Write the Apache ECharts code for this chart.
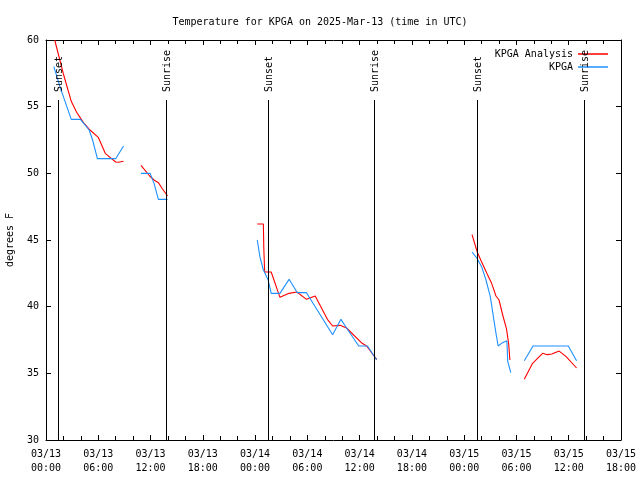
<!DOCTYPE html>
<html>
<head>
<meta charset="utf-8">
<script src="https://cdn.jsdelivr.net/npm/echarts@6/dist/echarts.min.js"></script>
<style>html,body{margin:0;padding:0;background:#fff}#c{width:640px;height:480px}</style>
</head>
<body>
<div id="c"></div>
<script>
// Times are hours since 2025-03-13 00:00 UTC
const xTickHours = [0, 6, 12, 18, 24, 30, 36, 42, 48, 54, 60, 66];
const yTicks = [30, 35, 40, 45, 50, 55, 60];

// KPGA Analysis (red) segments [hour, degF]
const analysisSeg1 = [[1.0,60.0],[2.0,57.45],[2.9,55.4],[3.5,54.6],[4.3,53.8],[5.05,53.25],[6.0,52.7],[6.8,51.5],[7.35,51.2],[8.0,50.85],[8.3,50.83],[8.9,50.9]];
const analysisSeg2 = [[10.9,50.6],[11.9,49.8],[12.4,49.5],[12.9,49.3],[13.3,48.9],[13.95,48.3]];
const analysisSeg3 = [[24.25,46.2],[24.95,46.2],[25.0,44.4],[25.1,42.6],[25.85,42.6],[26.85,40.7],[27.9,41.0],[28.8,41.1],[29.9,40.55],[30.9,40.8],[32.3,39.05],[32.9,38.55],[33.75,38.6],[34.5,38.4],[36.2,37.3],[36.8,37.05],[37.95,36.05]];
const analysisSeg4 = [[48.9,45.4],[49.5,44.1],[49.9,43.5],[50.6,42.5],[51.15,41.75],[51.65,40.8],[52.0,40.5],[52.45,39.3],[52.85,38.35],[53.0,38.2],[53.1,37.25],[53.25,36.0]];
const analysisSeg5 = [[54.9,34.55],[55.85,35.75],[57.0,36.5],[57.55,36.4],[58.05,36.45],[58.9,36.67],[59.7,36.25],[60.9,35.4]];

// KPGA observations (blue) segments [hour, degF]
const obsSeg1 = [[0.9,58.0],[1.6,56.5],[2.9,54.05],[3.95,54.05],[4.95,53.25],[5.35,52.5],[5.9,51.1],[8.0,51.1],[8.9,52.05]];
const obsSeg2 = [[10.9,50.0],[11.95,50.0],[12.4,49.25],[12.9,48.05],[13.95,48.05]];
const obsSeg3 = [[24.25,45.0],[24.55,43.75],[24.95,42.75],[25.5,42.0],[25.85,41.0],[26.85,41.0],[27.9,42.05],[28.85,41.05],[29.9,41.05],[32.9,37.9],[33.85,39.05],[34.5,38.4],[35.9,37.05],[36.9,37.05],[37.95,36.0]];
const obsSeg4 = [[48.9,44.1],[49.5,43.6],[50.0,43.0],[50.5,42.0],[51.0,40.75],[51.35,39.25],[51.65,38.0],[51.9,37.05],[52.1,37.1],[52.4,37.3],[52.9,37.45],[53.0,35.9],[53.35,35.05]];
const obsSeg5 = [[54.9,35.95],[55.9,37.05],[59.95,37.05],[60.9,35.95]];

// Sun events
const sunHours = [1.41, 13.73, 25.5, 37.7, 49.5, 61.7];
const sunLabels = ['Sunset', 'Sunrise', 'Sunset', 'Sunrise', 'Sunset', 'Sunrise'];
const sunLineTop = 55.5;

const FONT = 'DejaVu Sans Mono';
const FS = 10;
const RED = '#ff0000';
const BLUE = '#1e90ff';

function fmtX(h) {
  const day = 13 + Math.floor(h / 24);
  const hh = h % 24;
  return '03/' + day + '\n' + String(hh).padStart(2, '0') + ':00';
}

function lineSeries(name, data, color) {
  return {
    name: name, type: 'line', data: data, symbol: 'none', showSymbol: false,
    lineStyle: {color: color, width: 1.1}, itemStyle: {color: color},
    animation: false, silent: true, z: 3
  };
}

const baseX = {
  type: 'value', min: 0, max: 66, interval: 6,
  axisLine: {onZero: false, lineStyle: {color: '#000', width: 1}},
  axisTick: {inside: true, length: 5, lineStyle: {color: '#000'}},
  minorTick: {show: true, splitNumber: 3, length: 4, lineStyle: {color: '#000'}},
  splitLine: {show: false}
};
const baseY = {
  type: 'value', min: 30, max: 60, interval: 5,
  axisLine: {onZero: false, lineStyle: {color: '#000', width: 1}},
  axisTick: {inside: true, length: 5, lineStyle: {color: '#000'}},
  splitLine: {show: false}
};

const chart = echarts.init(document.getElementById('c'));
chart.setOption({
  animation: false,
  backgroundColor: '#fff',
  title: {
    text: 'Temperature for KPGA on 2025-Mar-13 (time in UTC)',
    left: 'center', top: 12,
    textStyle: {fontFamily: FONT, fontSize: FS, fontWeight: 'normal', color: '#000'}
  },
  legend: {
    orient: 'vertical', right: 27, top: 43, align: 'right',
    itemWidth: 30, itemHeight: 1.5, itemGap: 1, icon: 'rect', itemTextGap: 7,
    textStyle: {fontFamily: FONT, fontSize: FS, color: '#000', lineHeight: 12},
    data: [{name: 'KPGA Analysis', itemStyle: {color: RED}}, {name: 'KPGA', itemStyle: {color: BLUE}}]
  },
  grid: {left: 46, right: 19, top: 40, bottom: 40, containLabel: false, outerBoundsMode: 'none'},
  xAxis: [
    Object.assign({}, baseX, {
      position: 'bottom',
      axisLabel: {formatter: fmtX, color: '#000', fontFamily: FONT, fontSize: FS, lineHeight: 14, margin: 7}
    }),
    Object.assign({}, baseX, {position: 'top', axisLabel: {show: false}})
  ],
  yAxis: [
    Object.assign({}, baseY, {
      position: 'left',
      name: 'degrees F', nameLocation: 'middle', nameGap: 31,
      nameTextStyle: {fontFamily: FONT, fontSize: FS, color: '#000'},
      axisLabel: {color: '#000', fontFamily: FONT, fontSize: FS, margin: 7}
    }),
    Object.assign({}, baseY, {position: 'right', axisLabel: {show: false}})
  ],
  series: [
    lineSeries('KPGA Analysis', analysisSeg1, RED),
    lineSeries('KPGA Analysis', analysisSeg2, RED),
    lineSeries('KPGA Analysis', analysisSeg3, RED),
    lineSeries('KPGA Analysis', analysisSeg4, RED),
    lineSeries('KPGA Analysis', analysisSeg5, RED),
    lineSeries('KPGA', obsSeg1, BLUE),
    lineSeries('KPGA', obsSeg2, BLUE),
    lineSeries('KPGA', obsSeg3, BLUE),
    lineSeries('KPGA', obsSeg4, BLUE),
    lineSeries('KPGA', obsSeg5, BLUE),
    {
      type: 'custom', name: 'sun', silent: true, clip: false, z: 4,
      data: sunHours.map((h, i) => [h, i]),
      renderItem: function (params, api) {
        const h = api.value(0);
        const idx = api.value(1);
        const p0 = api.coord([h, 30]);
        const p1 = api.coord([h, sunLineTop]);
        const xs = Math.round(p0[0]) + 0.5;
        return {
          type: 'group',
          children: [
            {type: 'line', shape: {x1: xs, y1: p0[1], x2: xs, y2: p1[1]},
             style: {stroke: '#000', lineWidth: 1}},
            {type: 'text', x: xs + 1, y: p1[1] - 8, rotation: Math.PI / 2,
             style: {text: sunLabels[idx], x: 0, y: 0, align: 'left', verticalAlign: 'middle',
                     fontFamily: FONT, fontSize: FS, fill: '#000'}}
          ]
        };
      }
    }
  ]
});
</script>
</body>
</html>
